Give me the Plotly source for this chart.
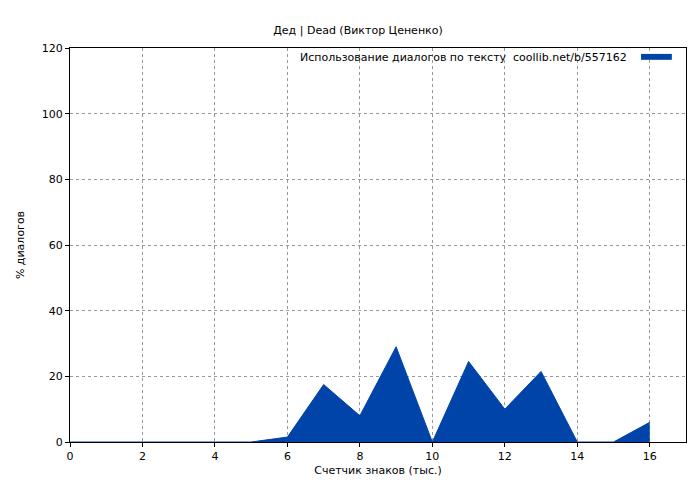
import plotly.graph_objects as go

x_vals = list(range(0, 17))
y_vals = [0, 0, 0, 0, 0, 0, 1.5, 17.5, 8, 29, 0, 24.5, 10, 21.5, 0, 0, 6]
x_ticks = [0, 2, 4, 6, 8, 10, 12, 14, 16]
y_ticks = [0, 20, 40, 60, 80, 100, 120]
legend_text = "Использование диалогов по тексту  coollib.net/b/557162"

fig = go.Figure()
fig.add_trace(go.Scatter(x=x_vals, y=y_vals, mode="lines", fill="tozeroy",
                         line=dict(color="#0044aa", width=1), fillcolor="#0044aa",
                         name=legend_text, showlegend=False))
ax = dict(showgrid=True, gridcolor="#999", griddash="dot", gridwidth=1,
          showline=True, linecolor="black", mirror=True, ticks="outside",
          ticklen=4, tickcolor="black", zeroline=False, automargin=False,
          tickfont=dict(size=11))
fig.update_layout(
    width=700, height=480, plot_bgcolor="white", paper_bgcolor="white",
    margin=dict(l=62, r=22, t=40, b=46),
    font=dict(family="DejaVu Sans", size=11, color="black"),
    title=dict(text="Дед | Dead (Виктор Цененко)", x=0.5, y=0.962, xanchor="center", font=dict(size=11)),
    xaxis=dict(ax, range=[0, 17], tickvals=x_ticks, title=dict(text="Счетчик знаков (тыс.)", standoff=4, font=dict(size=11))),
    yaxis=dict(ax, range=[0, 120], tickvals=y_ticks, title=dict(text="% диалогов", standoff=14, font=dict(size=11))),
    annotations=[dict(xref="paper", yref="paper", x=0.907, y=0.977, xanchor="right", yanchor="middle",
                      text=legend_text, showarrow=False, font=dict(size=11))],
    shapes=[dict(type="rect", xref="paper", yref="paper", x0=0.927, x1=0.977, y0=0.970, y1=0.985,
                 fillcolor="#0044aa", line=dict(width=0))],
)
fig.write_html("out.html")
